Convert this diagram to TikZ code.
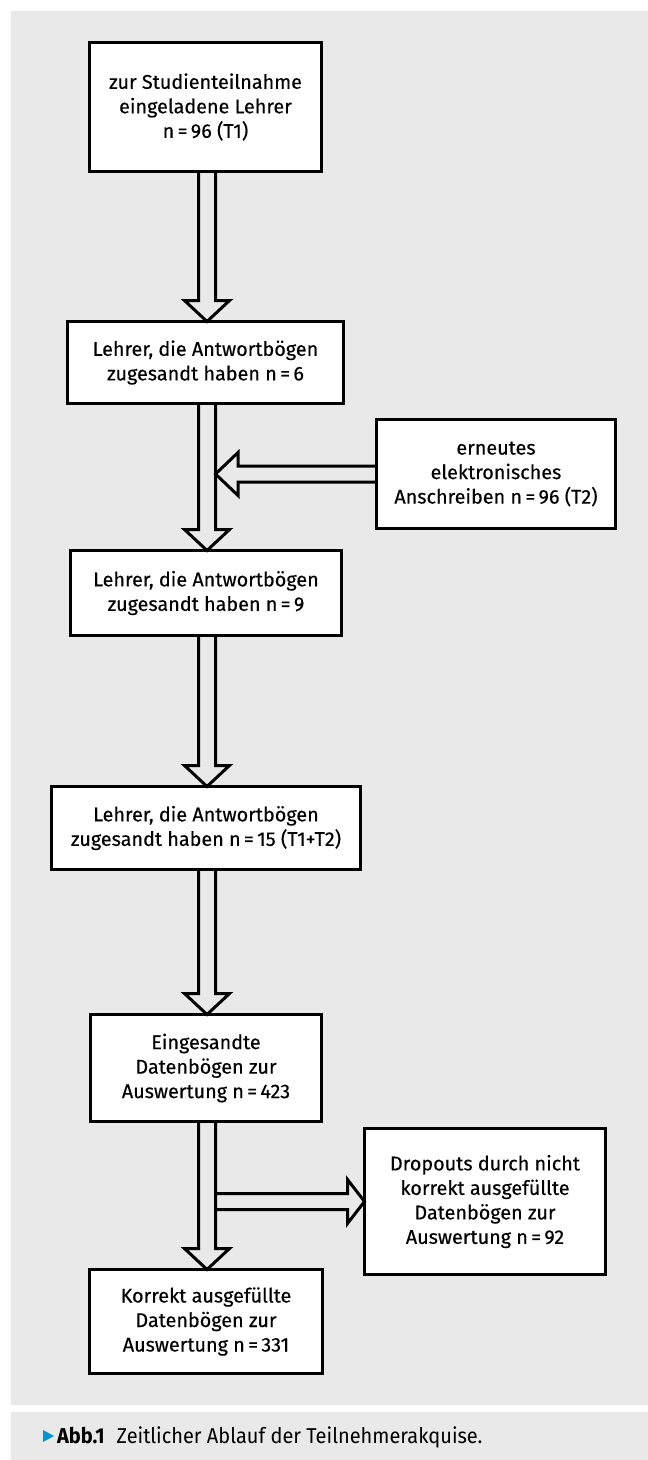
\documentclass[tikz,border=0pt]{standalone}
\usepackage{fontspec}
\setmainfont{Fira Sans}
\newfontfamily\boxfont[FakeBold=0.3]{Fira Sans}
\newfontfamily\capfont[FakeStretch=0.93]{Fira Sans}
\usetikzlibrary{calc}
\definecolor{panel}{RGB}{233,233,233}
\definecolor{capblue}{RGB}{0,150,214}
\newcommand\vArrowBetween[2]{%
  \draw[fat] ($(#1.south -| ax)+(-8.5,0)$) -- ($(#2.north -| ax)+(-8.5,-21)$) -- ($(#2.north -| ax)+(-22.5,-21)$) -- (#2.north -| ax) -- ($(#2.north -| ax)+(22.5,-21)$) -- ($(#2.north -| ax)+(8.5,-21)$) -- ($(#1.south -| ax)+(8.5,0)$);}
\begin{document}
\begin{tikzpicture}[x=1pt,y=-1pt,
  box/.style={draw=black, line width=3.2pt, fill=white, inner sep=0pt, outer sep=0pt, align=center, font=\boxfont\fontsize{19.8}{24.5}\selectfont},
  fat/.style={draw=black, line width=3pt, line join=miter},
]
\useasboundingbox (0,0) rectangle (648,1460);
\fill[white] (0,0) rectangle (648,1460);
\fill[panel] (11,11) rectangle (648,1405);
\fill[panel] (11,1412) rectangle (648,1460);

\coordinate (ax) at (207,0);
\coordinate (axr) at (215.5,0);

\node[box, minimum width=232pt, minimum height=129pt] (b1) at (205.5,107) {zur Studienteilnahme\\eingeladene Lehrer\\n\,=\,96 (T1)};
\node[box, minimum width=276pt, minimum height=82pt] (b2) at (205.5,362.5) {Lehrer, die Antwortbögen\\zugesandt haben n\,=\,6};
\node[box, minimum width=239pt, minimum height=109pt] (R) at (496,474) {erneutes\\elektronisches\\Anschreiben n\,=\,96 (T2)};
\node[box, minimum width=271pt, minimum height=85pt] (b3) at (206,593) {Lehrer, die Antwortbögen\\zugesandt haben n\,=\,9};
\node[box, minimum width=309pt, minimum height=83pt] (b4) at (206,828) {Lehrer, die Antwortbögen\\zugesandt haben n\,=\,15 (T1+T2)};
\node[box, minimum width=231pt, minimum height=107pt] (b5) at (206,1068) {Eingesandte\\Datenbögen zur\\Auswertung n\,=\,423};
\node[box, minimum width=241pt, minimum height=146pt] (D) at (485,1201.5) {Dropouts durch nicht\\korrekt ausgefüllte\\Datenbögen zur\\Auswertung n\,=\,92};
\node[box, minimum width=233pt, minimum height=104pt] (b6) at (206,1321.5) {Korrekt ausgefüllte\\Datenbögen zur\\Auswertung n\,=\,331};

\vArrowBetween{b1}{b2}
\vArrowBetween{b2}{b3}
\vArrowBetween{b3}{b4}
\vArrowBetween{b4}{b5}
\vArrowBetween{b5}{b6}

\draw[fat] ($(R.west)+(0,-8)$) -- ($(R.west -| axr)+(22.5,-8)$) -- ($(R.west -| axr)+(22.5,-21.5)$) -- (R.west -| axr) -- ($(R.west -| axr)+(22.5,21.5)$) -- ($(R.west -| axr)+(22.5,8)$) -- ($(R.west)+(0,8)$);
\draw[fat] ($(D.west -| axr)+(0,-8)$) -- ($(D.west)+(-17,-8)$) -- ($(D.west)+(-17,-22)$) -- (D.west) -- ($(D.west)+(-17,22)$) -- ($(D.west)+(-17,8)$) -- ($(D.west -| axr)+(0,8)$);

\fill[capblue] (43,1430) -- (54,1436) -- (43,1442) -- cycle;
\node[anchor=base west, inner sep=0pt, font=\capfont\fontsize{21.5}{24}\selectfont] (cap) at (57,1443) {\textbf{Abb.1}\hspace{12pt}Zeitlicher Ablauf der Teilnehmerakquise.};
\end{tikzpicture}
\end{document}
